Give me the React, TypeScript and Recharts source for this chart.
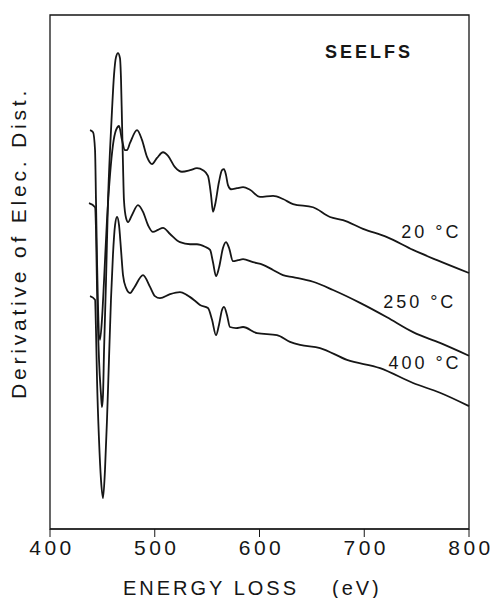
import { LineChart, Line, XAxis, YAxis, ReferenceArea, ReferenceDot } from "recharts";

const FONT = '"Liberation Sans", Arial, Helvetica, sans-serif';
const INK = "#161616";

// energy loss (eV), derivative signal (arb. units)
const trace20: [number, number][] = [
  [438.2, 77.6], [441.1, 77.2], [443.0, 73.7], [443.9, 64.0], [444.9, 52.3],
  [445.8, 43.6], [447.7, 36.8], [449.6, 40.7], [451.6, 48.4], [454.4, 60.1],
  [457.3, 68.9], [460.1, 74.7], [463.0, 77.6], [465.9, 78.4], [468.7, 75.7],
  [471.6, 73.7], [473.5, 73.7], [476.4, 75.1], [483.1, 77.6], [487.8, 75.7],
  [492.6, 72.4], [497.4, 71.0], [502.2, 72.2], [507.9, 73.3], [512.7, 72.6],
  [519.3, 70.4], [526.0, 69.5], [533.7, 69.8], [540.3, 70.2], [546.1, 69.8],
  [550.8, 68.7], [553.7, 65.0], [555.6, 61.7], [557.5, 63.0], [561.3, 67.5],
  [564.2, 69.8], [566.1, 70.0], [568.0, 68.9], [569.9, 66.9], [572.8, 66.1],
  [578.5, 66.3], [584.3, 66.5], [590.9, 66.0], [600.5, 64.6], [612.9, 64.8],
  [622.4, 64.2], [632.0, 63.2], [651.1, 62.6], [667.3, 60.7], [679.7, 60.1],
  [698.8, 58.4], [721.7, 56.8], [746.6, 54.3], [769.5, 52.3], [800, 49.8],
];

const trace250: [number, number][] = [
  [437.2, 63.4], [443.0, 62.6], [443.9, 58.2], [444.9, 46.5], [446.8, 32.9],
  [448.7, 26.1], [449.6, 23.7], [450.6, 26.1], [451.6, 34.8], [453.5, 48.4],
  [455.4, 64.0], [457.3, 73.7], [459.2, 81.5], [461.1, 88.3], [463.0, 91.8],
  [464.9, 92.6], [466.8, 91.6], [467.8, 87.4], [468.7, 79.6], [469.7, 70.8],
  [470.6, 64.0], [472.6, 60.5], [474.5, 59.7], [478.3, 61.1], [484.0, 63.0],
  [488.8, 61.7], [493.6, 59.1], [498.3, 57.8], [503.1, 58.2], [507.9, 58.6],
  [514.6, 57.4], [524.1, 55.8], [533.7, 55.4], [540.3, 55.4], [548.0, 54.9],
  [552.8, 54.3], [555.6, 51.9], [558.5, 49.2], [561.3, 50.8], [565.2, 54.7],
  [568.0, 55.8], [570.9, 54.7], [574.7, 52.1], [579.5, 52.3], [584.3, 52.5],
  [593.8, 51.9], [603.4, 51.4], [612.9, 50.4], [622.4, 49.4], [632.0, 49.0],
  [651.1, 48.1], [670.2, 46.5], [696.0, 44.0], [721.7, 41.2], [746.6, 38.3],
  [772.3, 36.2], [800, 33.7],
];

const trace400: [number, number][] = [
  [438.2, 45.3], [443.0, 44.6], [443.9, 38.7], [444.9, 29.0], [446.8, 17.3],
  [448.7, 9.5], [450.6, 6.0], [452.5, 11.5], [454.4, 21.2], [456.3, 32.9],
  [458.2, 44.6], [460.1, 53.3], [462.1, 59.1], [464.0, 60.7], [465.9, 59.1],
  [467.8, 54.3], [469.7, 49.4], [472.6, 46.9], [476.4, 45.9], [480.2, 46.9],
  [488.8, 49.4], [495.5, 47.1], [500.2, 45.3], [505.0, 44.9], [514.6, 45.7],
  [524.1, 46.1], [530.8, 45.5], [538.4, 44.4], [543.2, 43.6], [550.8, 43.0],
  [554.7, 40.7], [558.5, 37.7], [561.3, 39.7], [564.2, 42.6], [566.1, 43.2],
  [569.0, 41.6], [571.8, 39.3], [577.6, 39.1], [584.3, 39.3], [597.6, 38.1],
  [616.7, 37.7], [629.1, 36.4], [638.7, 35.8], [657.8, 35.2], [683.5, 32.9],
  [715.1, 31.3], [746.6, 28.4], [772.3, 26.5], [800, 23.9],
];

const energyTicks = [400, 500, 600, 700, 800];

const curveLabels = [
  { text: "20 °C", e: 764, v: 57.8 },
  { text: "250 °C", e: 753, v: 44.2 },
  { text: "400 °C", e: 758, v: 32.3 },
];

const toRows = (pts: [number, number][]) => pts.map(([e, v]) => ({ e, v }));

function EnergyTick({ x, y, payload }: any) {
  return (
    <text x={x + 2} y={y} dy={16} textAnchor="middle" fontFamily={FONT} fontSize={21}
      letterSpacing={3.5} fill={INK}>
      {payload.value}
    </text>
  );
}

function XTitle({ viewBox }: any) {
  const base = viewBox.y + viewBox.height - 3;
  return (
    <g fontFamily={FONT} fontSize={20} letterSpacing={3} fill={INK}>
      <text x={viewBox.x + 73} y={base}>ENERGY LOSS</text>
      <text x={viewBox.x + 282} y={base}>(eV)</text>
    </g>
  );
}

function YTitle({ viewBox }: any) {
  const cx = viewBox.x + 18;
  const cy = viewBox.y + 228;
  return (
    <text x={cx} y={cy} transform={`rotate(-90, ${cx}, ${cy})`} textAnchor="middle"
      dominantBaseline="central" fontFamily={FONT} fontSize={21} letterSpacing={3.8} fill={INK}>
      Derivative of Elec. Dist.
    </text>
  );
}

const note = (text: string, size: number, bold = false) => ({ viewBox }: any) => (
  <text x={viewBox.x} y={viewBox.y} textAnchor="middle" dominantBaseline="central"
    fontFamily={FONT} fontSize={size} fontWeight={bold ? "bold" : "normal"}
    letterSpacing={3} fill={INK}>
    {text}
  </text>
);

export default function App() {
  const series = [trace20, trace250, trace400];
  return (
    <div style={{ position: "absolute", left: 0, top: 0, width: 495, height: 598 }}>
      <LineChart width={495} height={598} margin={{ top: 15, right: 26, bottom: 0, left: 0 }}>
        <XAxis
          dataKey="e"
          type="number"
          domain={[400, 800]}
          ticks={energyTicks}
          allowDuplicatedCategory={false}
          height={69}
          tickSize={8}
          stroke={INK}
          tick={<EnergyTick />}
          label={{ content: <XTitle /> }}
        />
        <YAxis
          domain={[0, 100]}
          width={50}
          tick={false}
          tickLine={false}
          axisLine={false}
          label={{ content: <YTitle /> }}
        />
        <ReferenceArea x1={400} x2={800} y1={0} y2={100} fill="none" stroke={INK} strokeWidth={1.3} />
        {series.map((pts, i) => (
          <Line
            key={i}
            data={toRows(pts)}
            dataKey="v"
            type="monotone"
            stroke={INK}
            strokeWidth={1.8}
            dot={false}
            isAnimationActive={false}
          />
        ))}
        <ReferenceDot x={704.5} y={92.8} r={0} fill="none" stroke="none"
          label={{ content: note("SEELFS", 18, true) }} />
        {curveLabels.map((c) => (
          <ReferenceDot key={c.text} x={c.e} y={c.v} r={0} fill="none" stroke="none"
            label={{ content: note(c.text, 18) }} />
        ))}
      </LineChart>
    </div>
  );
}
